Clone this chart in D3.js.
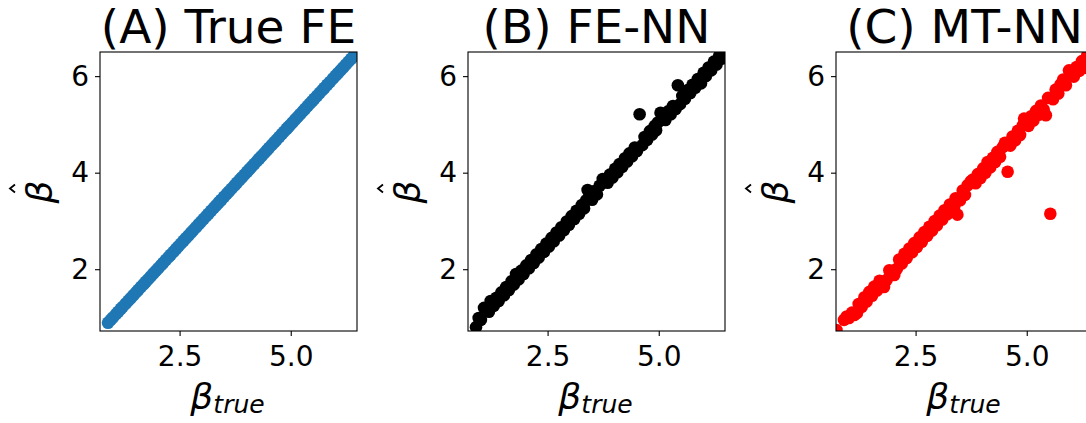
<!DOCTYPE html>
<html>
<head>
<meta charset="utf-8">
<script src="https://cdn.jsdelivr.net/npm/d3@7"></script>
<style>
body { margin: 0; background: #fff; }
text { font-family: "DejaVu Sans", sans-serif; fill: #000; }
</style>
</head>
<body>
<svg id="chart" width="1086" height="423"></svg>
<script>
// true effects (x axis of every panel)
var beta_true = [
  0.89, 0.95, 1.00, 1.07, 1.12, 1.18, 1.22, 1.29, 1.35, 1.40,
  1.46, 1.52, 1.57, 1.63, 1.69, 1.74, 1.79, 1.85, 1.91, 1.96,
  2.02, 2.08, 2.13, 2.19, 2.25, 2.30, 2.36, 2.42, 2.47, 2.53,
  2.59, 2.64, 2.70, 2.76, 2.81, 2.87, 2.93, 2.98, 3.04, 3.10,
  3.15, 3.21, 3.27, 3.32, 3.37, 3.40, 3.44, 3.50, 3.56, 3.61,
  3.67, 3.74, 3.79, 3.85, 3.90, 3.96, 4.02, 4.07, 4.12, 4.18,
  4.24, 4.29, 4.34, 4.40, 4.46, 4.51, 4.57, 4.63, 4.68, 4.74,
  4.80, 4.85, 4.91, 4.94, 4.98, 5.04, 5.10, 5.15, 5.21, 5.27,
  5.32, 5.38, 5.43, 5.48, 5.53, 5.59, 5.65, 5.71, 5.76, 5.82,
  5.88, 5.95, 6.01, 6.06, 6.12, 6.18, 6.24, 6.30, 6.36, 6.42,
  6.48, 6.55
]

// (A) the true FE estimate is the true value itself
var est_true_fe = beta_true.slice()

// (B) FE-NN estimates
var est_fe_nn = [
  0.80, 0.99, 0.95, 1.20, 1.17, 1.12, 1.34, 1.24, 1.41, 1.34,
  1.52, 1.46, 1.63, 1.57, 1.75, 1.68, 1.90, 1.79, 1.97, 1.90,
  2.08, 2.02, 2.19, 2.13, 2.31, 2.24, 2.42, 2.36, 2.53, 2.47,
  2.65, 2.58, 2.76, 2.70, 2.87, 2.81, 2.99, 2.92, 3.10, 3.04,
  3.21, 3.15, 3.33, 3.26, 3.43, 3.64, 3.50, 3.44, 3.62, 3.55,
  3.73, 3.87, 3.85, 3.79, 3.96, 3.90, 4.08, 4.01, 4.18, 4.12,
  4.30, 4.23, 4.40, 4.34, 4.52, 4.45, 5.21, 4.57, 4.74, 4.68,
  4.86, 4.79, 4.97, 4.88, 5.04, 5.24, 5.16, 5.09, 5.27, 5.21,
  5.38, 5.32, 5.81, 5.42, 5.59, 5.53, 5.71, 5.65, 5.82, 5.76,
  5.94, 5.85, 6.07, 6.00, 6.18, 6.12, 6.30, 6.24, 6.42, 6.36,
  6.54, 6.49
]

// (C) MT-NN estimates
var est_mt_nn = [
  0.95, 1.02, 0.99, 1.10, 1.05, 1.09, 1.28, 1.22, 1.42, 1.33,
  1.53, 1.45, 1.64, 1.56, 1.76, 1.67, 1.63, 1.78, 1.98, 1.89,
  1.88, 2.01, 2.20, 2.12, 2.32, 2.23, 2.43, 2.35, 2.54, 2.46,
  2.66, 2.57, 2.77, 2.69, 2.88, 2.80, 3.00, 2.91, 3.11, 3.03,
  3.22, 3.14, 3.34, 3.25, 3.30, 3.47, 3.13, 3.43, 3.63, 3.54,
  3.74, 3.82, 3.86, 3.78, 3.97, 3.89, 4.09, 4.00, 4.22, 4.11,
  4.31, 4.22, 4.43, 4.33, 4.53, 4.62, 4.02, 4.56, 4.75, 4.67,
  4.87, 4.78, 4.98, 5.12, 5.05, 4.97, 5.17, 5.08, 5.28, 5.20,
  5.39, 5.31, 5.19, 5.55, 3.15, 5.52, 5.72, 5.64, 5.83, 5.93,
  5.81, 6.12, 6.08, 5.99, 6.19, 6.11, 6.31, 6.17, 6.43, 6.35,
  6.55, 6.48
]
// lone MT-NN point sitting in the lower left corner
var extra_mt_true = [0.72]
var extra_mt_est = [0.74]

var titles = ["(A) True FE", "(B) FE-NN", "(C) MT-NN"]
var colors = ["#1f77b4", "#000000", "#ff0000"]
var x_ticks = [2.5, 5.0]
var y_ticks = [2, 4, 6]
var x_lim = [0.71, 6.49]
var y_lim = [0.72, 6.5]

var panel_left = [100, 468, 836]
var panel_top = 52
var panel_w = 257
var panel_h = 279
var dot_r = 6.3

var svg = d3.select("#chart")
svg.append("rect").attr("width", 1086).attr("height", 423).attr("fill", "#fff")

function draw_panel(i, xs, ys) {
  var x = d3.scaleLinear().domain(x_lim).range([0, panel_w])
  var y = d3.scaleLinear().domain(y_lim).range([panel_h, 0])
  var g = svg.append("g").attr("transform", "translate(" + panel_left[i] + "," + panel_top + ")")

  g.append("clipPath").attr("id", "clip" + i)
    .append("rect").attr("width", panel_w).attr("height", panel_h)

  var pts = xs.map(function(d, k) { return [d, ys[k]] })
  g.append("g").attr("clip-path", "url(#clip" + i + ")")
    .selectAll("circle").data(pts).enter().append("circle")
    .attr("cx", function(d) { return x(d[0]) })
    .attr("cy", function(d) { return y(d[1]) })
    .attr("r", dot_r)
    .attr("fill", colors[i])

  var xa = g.append("g").attr("transform", "translate(0," + panel_h + ")")
    .call(d3.axisBottom(x).tickValues(x_ticks).tickFormat(d3.format(".1f"))
      .tickSize(5).tickSizeOuter(0).tickPadding(10))
  var ya = g.append("g")
    .call(d3.axisLeft(y).tickValues(y_ticks).tickFormat(d3.format("d"))
      .tickSize(5).tickSizeOuter(0).tickPadding(6))
  ;[xa, ya].forEach(function(a) {
    a.select(".domain").remove()
    a.selectAll("line").attr("stroke", "#000").attr("stroke-width", 1.1)
    a.selectAll("text").attr("font-size", 28).attr("font-family", "DejaVu Sans").attr("fill", "#000")
  })

  g.append("rect").attr("width", panel_w).attr("height", panel_h)
    .attr("fill", "none").attr("stroke", "#000").attr("stroke-width", 1.1)

  g.append("text").attr("x", panel_w / 2).attr("y", 43 - panel_top)
    .attr("text-anchor", "middle").attr("font-size", 47).text(titles[i])

  var xl = g.append("text").attr("x", panel_w / 2 - 1).attr("y", 409 - panel_top)
    .attr("text-anchor", "middle").attr("font-style", "italic")
  xl.append("tspan").attr("font-size", 36).text("β")
  xl.append("tspan").attr("font-size", 25).attr("dy", 4).text("true")

  var yl = g.append("g").attr("transform", "translate(" + (52 - 100) + "," + (192 - panel_top) + ") rotate(-90)")
  yl.append("text").attr("text-anchor", "middle").attr("font-size", 36)
    .attr("font-style", "italic").text("β")
  yl.append("path").attr("d", "M-0.5,-37 L3.5,-42 L7.5,-37")
    .attr("fill", "none").attr("stroke", "#000").attr("stroke-width", 1.8)
}

draw_panel(0, beta_true, est_true_fe)
draw_panel(1, beta_true, est_fe_nn)
draw_panel(2, extra_mt_true.concat(beta_true), extra_mt_est.concat(est_mt_nn))
</script>
</body>
</html>
